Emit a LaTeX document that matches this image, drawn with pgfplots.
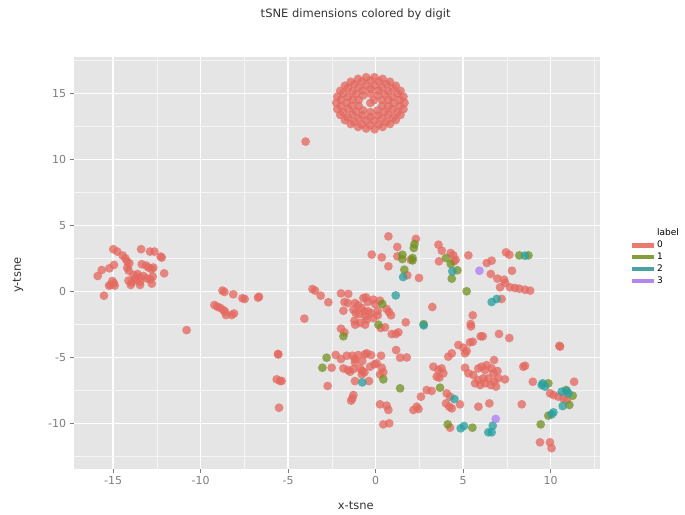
\documentclass[border=0pt]{standalone}
\usepackage{pgfplots}
\pgfplotsset{compat=1.18}
\usepackage{fontspec}
\setmainfont{DejaVu Sans}
\definecolor{bgpanel}{RGB}{229,229,229}
\definecolor{tickgray}{RGB}{125,125,125}
\definecolor{cA}{RGB}{228,105,95}
\definecolor{cB}{RGB}{115,145,35}
\definecolor{cC}{RGB}{40,160,160}
\definecolor{cD}{RGB}{175,125,245}
\definecolor{lA}{RGB}{232,122,112}
\definecolor{lB}{RGB}{128,158,58}
\definecolor{lC}{RGB}{72,162,162}
\definecolor{lD}{RGB}{180,135,240}
\pgfplotsset{
  dot/.style={only marks, mark=*, mark size=4.4pt, color=#1,
    mark options={draw opacity=0, fill=#1, fill opacity=0.76}},
}
\begin{document}
\begin{tikzpicture}
\path[use as bounding box] (-73.7pt,-45pt) rectangle (611.3pt,469pt);
\begin{axis}[
  scale only axis,
  width=526.3pt, height=412.3pt,
  xmin=-17.25, xmax=12.82,
  ymin=-13.43, ymax=17.8,
  axis background/.style={fill=bgpanel},
  axis line style={draw=none},
  xtick={-15,-10,-5,0,5,10},
  ytick={-10,-5,0,5,10,15},
  minor xtick={-12.5,-7.5,-2.5,2.5,7.5,12.5},
  minor ytick={-12.5,-7.5,-2.5,2.5,7.5,12.5,17.5},
  grid=both,
  major grid style={white, line width=1.3pt},
  minor grid style={white!60!bgpanel, line width=0.6pt},
  tick pos=left,
  tick align=outside,
  major tick length=4pt,
  minor tick length=0pt,
  tick style={tickgray, line width=0.8pt},
  /pgf/number format/assume math mode=true,
  tick label style={font=\fontsize{11}{13}\selectfont, text=tickgray},
  legend style={at={(1.05,0.59)}, anchor=north west, draw=none, fill=none,
    font=\fontsize{9}{11}\selectfont, row sep=1.3pt,
    nodes={inner sep=1.2pt}},
  legend cell align=left,
  clip=true,
]
\addlegendimage{empty legend}
\addlegendentry{label}
\addplot[dot=cA,
  legend image code/.code={\draw[lA, line width=4.5pt] (0pt,0pt) -- (22pt,0pt);}]
table {
x y
1.65 14.30
1.59 14.77
1.42 15.21
1.15 15.60
0.82 15.90
0.40 16.12
-0.06 16.24
-0.54 16.24
-1.00 16.12
-1.42 15.90
-1.75 15.60
-2.02 15.21
-2.19 14.77
-2.25 14.30
-2.19 13.83
-2.02 13.39
-1.75 13.00
-1.42 12.70
-1.00 12.48
-0.54 12.36
-0.06 12.30
0.40 12.48
0.82 12.70
1.15 13.00
1.42 13.39
1.59 13.83
1.38 14.54
1.25 15.00
0.99 15.41
0.62 15.73
0.18 15.93
-0.29 16.00
-0.77 15.93
-1.21 15.73
-1.58 15.42
-1.84 15.01
-1.98 14.55
-1.98 14.06
-1.85 13.60
-1.59 13.19
-1.22 12.87
-0.78 12.67
-0.30 12.60
0.17 12.67
0.61 12.87
0.98 13.18
1.24 13.59
1.38 14.05
1.05 14.30
0.97 14.76
0.73 15.17
0.38 15.47
-0.07 15.63
-0.53 15.63
-0.98 15.47
-1.33 15.17
-1.57 14.76
-1.65 14.30
-1.57 13.84
-1.33 13.43
-0.98 13.13
-0.53 12.97
-0.07 12.97
0.38 13.13
0.73 13.43
0.97 13.84
0.73 14.52
0.53 14.94
0.17 15.24
-0.28 15.35
-0.74 15.25
-1.11 14.97
-1.32 14.55
-1.33 14.08
-1.13 13.66
-0.77 13.36
-0.32 13.25
0.14 13.35
0.51 13.63
0.72 14.05
0.37 14.52
0.11 14.87
-0.30 15.00
-0.71 14.87
-0.97 14.52
-0.97 14.08
-0.71 13.73
-0.30 13.60
0.11 13.73
0.37 14.08
-0.30 14.30
-0.10 14.50
-4.00 11.37
-15.88 1.19
-15.65 1.64
-15.52 -0.30
-15.21 1.77
-14.95 2.03
-14.99 3.22
-14.76 3.04
-14.45 2.74
-14.30 2.53
-14.19 2.28
-14.07 2.15
-14.19 1.82
-14.11 1.60
-15.14 0.51
-15.04 0.81
-14.95 0.64
-15.23 0.46
-14.91 0.46
-14.12 0.84
-13.84 1.27
-13.69 1.01
-13.61 1.34
-13.50 1.09
-13.94 0.69
-13.99 0.51
-13.46 0.51
-13.46 0.76
-13.75 0.89
-13.40 3.22
-13.36 2.08
-13.11 1.98
-12.98 1.83
-12.79 1.70
-12.70 1.83
-12.89 3.04
-12.64 3.04
-12.28 2.66
-12.22 2.58
-12.08 1.39
-12.89 0.94
-12.79 0.61
-12.74 1.14
-13.27 1.19
-13.08 1.01
-10.80 -2.91
-8.75 0.08
-8.64 -0.02
-8.13 -0.20
-7.61 -0.50
-7.48 -0.55
-6.72 -0.45
-6.66 -0.38
-9.21 -1.01
-9.04 -1.14
-8.89 -1.22
-8.70 -1.39
-8.55 -1.77
-8.22 -1.77
-8.09 -1.65
-8.60 -1.52
0.73 4.19
1.24 3.39
2.30 4.00
-0.22 2.81
0.35 2.60
1.24 2.68
2.00 2.42
0.73 1.92
1.81 1.24
2.48 1.04
-3.61 0.20
-3.46 0.08
-3.14 -0.30
-2.70 -0.80
-4.07 -2.04
-1.98 -0.13
-1.56 -0.17
-1.78 -0.78
-1.59 -0.86
-1.84 -1.44
-1.18 -0.86
-0.99 -1.03
-0.80 -1.23
-0.70 -0.48
-0.55 -0.43
-0.45 -0.78
-0.13 -0.60
-0.03 -0.93
-1.27 -1.36
-1.14 -1.62
-0.94 -1.69
-0.64 -1.49
-0.42 -1.49
-0.26 -1.62
0.25 -0.68
0.63 -1.31
0.76 -1.54
0.88 -1.79
0.12 -1.44
0.12 -1.79
-0.13 -2.00
-1.21 -2.20
-0.89 -2.37
-0.60 -2.50
-1.17 -2.50
-0.51 -2.12
-0.60 -1.87
0.29 -2.75
0.54 -2.70
-1.98 -2.80
-1.78 -3.08
0.92 -3.21
1.15 -3.21
1.30 -3.08
1.72 -2.32
-5.56 -4.75
-5.58 -4.72
-5.65 -6.64
-5.46 -6.76
-5.37 -6.76
-5.52 -8.79
-2.51 -5.76
-2.74 -7.14
-2.28 -4.79
-1.98 -5.10
-1.65 -4.85
-1.33 -4.85
-1.18 -5.10
-0.99 -4.80
-0.61 -4.75
-0.51 -4.67
-0.76 -5.25
-1.18 -5.35
-1.84 -5.81
-1.59 -5.93
-1.46 -6.06
-1.27 -5.86
-0.89 -5.81
-0.76 -6.01
-0.64 -6.11
-0.79 -6.26
-0.32 -5.68
-0.07 -5.50
0.06 -5.43
0.35 -5.76
0.44 -6.11
0.25 -6.26
-0.26 -4.80
0.31 -4.85
1.17 -4.42
1.40 -5.00
1.78 -4.98
-1.18 -6.77
-0.38 -6.77
2.59 -7.95
-1.27 -7.83
-1.33 -8.08
-1.40 -8.25
0.25 -8.53
0.63 -8.63
0.73 -8.96
0.44 -10.05
0.78 -9.97
2.35 -8.71
2.45 -8.89
2.16 -8.96
3.59 3.56
3.78 3.11
4.29 2.93
4.44 2.75
4.57 2.42
4.48 2.30
3.62 2.30
5.30 2.75
6.35 2.17
6.63 2.35
6.58 1.34
6.96 0.99
7.34 0.91
7.40 0.66
7.11 0.33
7.79 1.59
7.45 2.98
7.64 2.80
7.68 0.33
7.96 0.28
8.21 0.23
8.54 0.15
8.83 0.08
7.20 -0.55
3.24 -1.16
5.55 -1.79
5.43 -2.45
5.45 -2.63
6.00 -3.38
6.12 -3.38
7.05 -3.20
7.64 -3.51
4.73 -4.04
5.01 -4.24
5.39 -3.84
5.55 -3.79
5.20 -4.49
5.11 -4.67
4.15 -4.92
4.35 -4.67
3.30 -5.68
3.58 -5.93
3.77 -5.81
3.49 -6.44
3.64 -6.51
3.87 -6.18
2.92 -7.45
3.20 -7.52
4.06 -7.70
4.25 -7.95
4.02 -8.46
4.21 -8.71
4.35 -8.84
4.82 -8.53
4.25 -10.30
5.87 -8.71
6.50 -8.46
5.11 -5.76
5.30 -6.18
5.58 -6.31
5.87 -5.81
6.06 -5.68
6.25 -5.93
6.16 -6.56
5.87 -6.69
5.68 -6.94
5.97 -7.07
6.25 -6.94
6.44 -6.56
6.58 -7.07
6.77 -6.82
6.88 -7.19
7.01 -6.56
6.73 -6.18
6.63 -5.81
6.35 -5.56
6.77 -5.18
7.39 -6.64
6.96 -6.01
8.44 -5.68
8.54 -5.61
8.35 -8.53
8.98 -6.82
9.97 -7.70
10.16 -7.83
10.54 -4.16
10.50 -4.10
11.34 -6.82
10.44 -7.95
10.73 -8.08
10.92 -8.20
9.39 -11.41
9.96 -11.41
10.05 -11.85
};
\addlegendentry{0}
\addplot[dot=cB,
  legend image code/.code={\draw[lB, line width=4.5pt] (0pt,0pt) -- (22pt,0pt);}]
table {
x y
2.22 3.61
2.18 3.31
1.53 2.80
1.53 2.47
2.11 2.55
2.11 2.37
1.64 1.67
0.38 -0.93
0.16 -2.50
-1.84 -3.38
-2.80 -5.00
-3.04 -5.76
0.44 -6.64
1.40 -7.32
4.02 2.55
4.29 2.10
4.67 1.62
4.35 0.99
8.21 2.75
8.73 2.75
5.20 0.03
2.74 -2.46
3.68 -7.27
4.12 -10.05
5.53 -10.30
9.87 -6.94
10.88 -7.45
11.26 -7.88
11.07 -8.58
9.87 -9.39
9.43 -10.05
};
\addlegendentry{1}
\addplot[dot=cC,
  legend image code/.code={\draw[lC, line width=4.5pt] (0pt,0pt) -- (22pt,0pt);}]
table {
x y
1.57 1.11
1.15 -0.28
2.75 -2.55
4.38 1.54
8.53 2.73
6.63 -0.78
6.92 -0.55
-0.76 -6.87
4.50 -8.13
4.86 -10.35
5.05 -10.17
6.69 -10.15
6.44 -10.65
6.63 -10.65
9.55 -6.94
9.68 -7.19
9.49 -7.07
10.63 -7.57
10.92 -7.52
11.01 -7.70
10.69 -8.66
10.16 -9.14
10.06 -9.29
};
\addlegendentry{2}
\addplot[dot=cD,
  legend image code/.code={\draw[lD, line width=4.5pt] (0pt,0pt) -- (22pt,0pt);}]
table {
x y
5.93 1.59
6.86 -9.64
};
\addlegendentry{3}
\end{axis}
\node[font=\fontsize{11.5}{13}\selectfont, text=black!80] at (282pt,455pt) {tSNE dimensions colored by digit};
\node[font=\fontsize{11.5}{13}\selectfont, text=black!80] at (282pt,-37pt) {x-tsne};
\node[font=\fontsize{11.5}{13}\selectfont, text=black!80, rotate=90] at (-55.7pt,194pt) {y-tsne};
\end{tikzpicture}
\end{document}
